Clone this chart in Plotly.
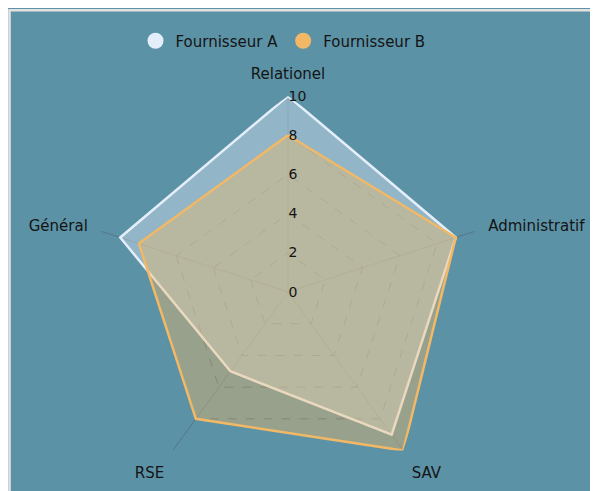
import plotly.graph_objects as go

categories = ["Relationel", "Administratif", "SAV", "RSE", "Général"]
series_a = [10, 9, 9, 5, 9]
series_b = [8, 9, 10, 8, 8]
names = ["Fournisseur A", "Fournisseur B"]
tick_vals = [0, 2, 4, 6, 8, 10]

BG = "#5c92a6"
FONT = "DejaVu Sans, sans-serif"
TXT = "#141414"

fig = go.Figure()
fig.add_trace(go.Scatterpolar(
    r=series_a + series_a[:1], theta=categories + categories[:1],
    mode="lines", fill="toself", name=names[0], showlegend=False,
    line=dict(color="#e4eefb", width=2.5),
    fillcolor="rgba(228,238,250,0.4)", hoverinfo="skip"))
fig.add_trace(go.Scatterpolar(
    r=series_b + series_b[:1], theta=categories + categories[:1],
    mode="lines", fill="toself", name=names[1], showlegend=False,
    line=dict(color="#f2b866", width=2.5),
    fillcolor="rgba(242,184,102,0.4)", hoverinfo="skip"))
# legend entries (circle markers)
for nm, col in zip(names, ["#e4eefb", "#f2b866"]):
    fig.add_trace(go.Scatterpolar(r=[None], theta=[None], mode="markers", name=nm,
                                  marker=dict(color=col, size=16, symbol="circle")))

OFF = 8  # page body margin
W, H = 598 - OFF, 491 - OFF
cx, cy, R = 288 - OFF, 292 - OFF, 196
fig.update_layout(
    width=W, height=H,
    margin=dict(l=0, r=0, t=0, b=0),
    paper_bgcolor=BG, plot_bgcolor=BG,
    font=dict(family=FONT, size=15, color=TXT),
    showlegend=True,
    legend=dict(orientation="h", x=(283 - OFF) / W, xanchor="center", y=1 - (41 - OFF) / H, yanchor="middle",
                font=dict(size=15, color=TXT), itemwidth=30, bgcolor="rgba(0,0,0,0)"),
    polar=dict(
        bgcolor="rgba(0,0,0,0)",
        domain=dict(x=[(cx - R) / W, (cx + R) / W], y=[(H - cy - R) / H, (H - cy + R) / H]),
        gridshape="linear",
        radialaxis=dict(range=[0, 10], tickvals=tick_vals, angle=90, tickangle=90, showline=False,
                        gridcolor="rgba(40,55,65,0.45)", griddash="dash", gridwidth=1,
                        tickfont=dict(size=14, color=TXT), ticks=""),
        angularaxis=dict(direction="clockwise", rotation=90, showline=False,
                         gridcolor="rgba(60,60,60,0.3)", gridwidth=1,
                         ticks="outside", ticklen=11, tickcolor="rgba(0,0,0,0)",
                         tickfont=dict(size=15, color=TXT)),
    ),
    shapes=[dict(type="rect", xref="paper", yref="paper",
                 x0=1.5 / W, x1=1.2, y0=-0.2, y1=1 - 2.3 / H,
                 line=dict(color="#e2e2e2", width=2.6), fillcolor="rgba(0,0,0,0)", layer="above")],
)
fig.write_html("out.html")
